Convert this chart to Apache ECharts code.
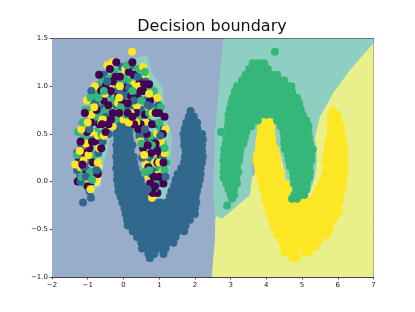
<!DOCTYPE html>
<html><head><meta charset="utf-8">
<style>html,body{margin:0;padding:0;background:#fff}#c{width:415px;height:312px;filter:blur(0.45px)}</style>
<script src="https://cdn.jsdelivr.net/npm/echarts@6/dist/echarts.min.js"></script>
</head><body><div id="c"></div>
<script>
const title = "Decision boundary";
const xTicks = [-2,-1,0,1,2,3,4,5,6,7];
const yTicks = [-1,-0.5,0,0.5,1,1.5];
const colPurple="#440154", colBlue="#31688e", colGreen="#35b779", colYellow="#fde725";
const regionBackground=[[-2,-1],[7,-1],[7,1.5],[-2,1.5]];
const regionYellow=[[2.47,-1],[2.56,-0.61],[2.57,-0.38],[7,1.46],[7,-1]];
const regionTeal=[[2.79,1.5],[2.56,0.51],[2.51,-0.12],[2.56,-0.35],[2.76,-0.39],[3.54,-0.14],[3.6,0.05],[3.6,0.23],[3.68,0.33],[3.77,0.49],[3.88,0.65],[4.1,0.67],[4.24,0.49],[4.38,0.3],[4.44,0.23],[4.58,-0.09],[4.86,-0.16],[5.22,-0.12],[5.36,0.05],[5.42,0.23],[5.36,0.47],[5.5,0.68],[5.87,0.93],[6.34,1.17],[7,1.45],[7,1.5]];
const regionTealLeft=[[0.18,1.27],[0.66,1.33],[0.8,1.14],[1.11,0.99],[1.16,0.72],[1.36,0.47],[1.3,0.17],[1.25,-0.09],[1.16,-0.19],[0.74,-0.19],[0.6,0.23],[0.32,0.59],[0.04,0.67],[-0.32,0.59],[-0.43,0.36],[-0.57,0.17],[-0.66,-0.04],[-0.94,-0.14],[-0.88,0.65],[-0.38,1.17]];
const regionYellowLeft=[[-0.65,-0.04],[-0.58,0.18],[-0.72,0.2],[-0.8,-0.05]];
const regionPurpleLeft=[[-1.42,0.05],[-1.38,0.35],[-1.2,0.35],[-1.2,0.05]];

const blueRows=[[0.74,[-0.02,1.88]],[0.68,[-0.12,0.05,1.83,1.97]],[0.62,[-0.2,-0.03,0.14,1.76,1.92,2.06]],[0.56,[-0.18,0,0.17,1.72,1.88,2.07]],[0.5,[-0.2,-0.04,0.16,1.68,1.86,2.04,2.2]],[0.44,[-0.17,0.01,0.18,1.7,1.87,2.05,2.22]],[0.38,[-0.2,-0.03,0.15,0.25,1.7,1.88,2.06,2.2]],[0.32,[-0.18,0,0.2,1.74,1.9,2.08,2.2]],[0.26,[-0.2,-0.02,0.16,0.28,1.72,1.9,2.06,2.22]],[0.2,[-0.18,0,0.2,0.3,1.7,1.88,2.04,2.2]],[0.14,[-0.2,-0.02,0.16,0.34,1.62,1.8,1.98,2.16]],[0.08,[-0.17,0.01,0.2,0.4,1.52,1.7,1.88,2.06,2.16]],[0.02,[-0.18,-0.01,0.17,0.35,0.48,1.46,1.64,1.82,2,2.14]],[-0.04,[-0.15,0.03,0.21,0.39,0.52,1.42,1.6,1.78,1.96,2.1]],[-0.1,[-0.14,0.02,0.2,0.38,0.54,1.34,1.52,1.7,1.88,2.06]],[-0.16,[-0.08,0.1,0.28,0.46,0.62,1.3,1.48,1.66,1.84,2.02]],[-0.22,[-0.03,0.14,0.32,0.5,0.68,0.86,1.02,1.2,1.38,1.56,1.74,1.92,2.04]],[-0.28,[0.03,0.2,0.38,0.56,0.74,0.92,1.1,1.28,1.46,1.64,1.82,2]],[-0.34,[0.06,0.24,0.42,0.6,0.78,0.96,1.14,1.32,1.5,1.68,1.86,2]],[-0.4,[0.1,0.28,0.46,0.64,0.82,1,1.18,1.36,1.54,1.72,1.86]],[-0.46,[0.12,0.3,0.48,0.66,0.84,1.02,1.2,1.38,1.56,1.74]],[-0.52,[0.26,0.44,0.62,0.8,0.98,1.16,1.34,1.52,1.7]],[-0.58,[0.38,0.56,0.74,0.92,1.1,1.28,1.46]],[-0.64,[0.5,0.68,0.86,1.04,1.22,1.4]],[-0.7,[0.52,0.68,0.84,1,1.18]],[-0.76,[0.7,0.86,1.12]],[-0.8,[0.74]]];

const greenRows=[[1.36,[4.24]],[1.24,[3.62,3.78,3.94]],[1.18,[3.52,3.7,3.88,4.04]],[1.12,[3.42,3.6,3.78,3.96,4.14,4.3]],[1.06,[3.32,3.5,3.68,3.86,4.04,4.22,4.38,4.5]],[1,[3.18,3.36,3.54,3.72,3.9,4.08,4.26,4.44,4.6,4.7]],[0.94,[3.12,3.3,3.48,3.66,3.84,4.02,4.2,4.38,4.56,4.72]],[0.88,[3.06,3.24,3.42,3.6,3.78,3.96,4.14,4.32,4.5,4.68,4.86]],[0.82,[3.02,3.2,3.38,3.56,3.74,3.92,4.1,4.28,4.46,4.64,4.82,4.92]],[0.76,[2.98,3.16,3.34,3.52,3.7,3.88,4.06,4.24,4.42,4.6,4.78,4.96]],[0.7,[2.94,3.12,3.3,3.48,3.66,3.84,4,4.18,4.36,4.54,4.72,4.9,5.02]],[0.64,[2.94,3.12,3.3,3.48,3.66,3.76,4.3,4.48,4.66,4.84,5.02,5.12]],[0.58,[2.92,3.1,3.28,3.46,3.58,4.4,4.58,4.76,4.94,5.12,5.18]],[0.52,[2.73,2.94,3.12,3.3,3.44,4.48,4.66,4.84,5.02,5.18]],[0.46,[2.88,3.06,3.24,3.4,4.5,4.68,4.86,5.04,5.2]],[0.4,[2.86,3.04,3.22,3.36,4.5,4.68,4.86,5.04,5.22]],[0.34,[2.82,3,3.18,3.28,4.52,4.7,4.88,5.06,5.24,5.3]],[0.28,[2.82,3,3.18,3.26,4.6,4.78,4.96,5.14,5.26]],[0.22,[2.8,2.98,3.16,3.24,4.62,4.8,4.98,5.16,5.26]],[0.16,[2.82,3,3.18,4.66,4.84,5.02,5.2]],[0.1,[2.8,2.98,3.16,3.22,4.74,4.92,5.1,5.22]],[0.04,[2.8,2.98,3.16,4.76,4.94,5.12,5.2]],[-0.02,[2.88,3.04,3.18,4.78,4.96,5.14]],[-0.08,[2.94,3.1,4.84,5,5.12]],[-0.14,[3,3.1,4.78,4.94,5.06]],[-0.18,[3.04,4.72,4.86]],[-0.25,[2.9]]];

const yellowRows=[[0.74,[3.98,5.86]],[0.7,[3.92,4.08,5.82,5.98]],[0.64,[3.96,4.1,5.8,5.96,6.02]],[0.58,[3.86,4.02,4.14,5.8,5.96,6.08]],[0.52,[3.84,4,4.14,5.82,5.98,6.1]],[0.46,[3.82,3.98,4.16,5.78,5.94,6.12]],[0.4,[3.8,3.98,4.18,5.72,5.9,6.08,6.16]],[0.34,[3.78,3.96,4.14,4.26,5.72,5.9,6.08,6.18]],[0.28,[3.74,3.92,4.1,4.28,5.68,5.86,6.04,6.2]],[0.22,[3.72,3.9,4.08,4.26,4.32,5.64,5.82,6,6.18]],[0.16,[3.76,3.94,4.12,4.3,5.68,5.86,6.04,6.2]],[0.1,[3.78,3.96,4.14,4.32,4.42,5.66,5.84,6.02,6.18]],[0.04,[3.84,4.02,4.2,4.38,5.62,5.8,5.98,6.16]],[-0.02,[3.86,4.04,4.22,4.4,4.54,5.54,5.72,5.9,6.08,6.16]],[-0.08,[3.92,4.1,4.28,4.46,4.6,5.44,5.62,5.8,5.98,6.12]],[-0.14,[3.96,4.14,4.32,4.5,4.66,5.38,5.56,5.74,5.92,6.08]],[-0.2,[3.98,4.16,4.34,4.52,4.7,4.88,5.06,5.24,5.42,5.6,5.78,5.96,6.06]],[-0.26,[4.04,4.22,4.4,4.58,4.76,4.94,5.12,5.3,5.48,5.66,5.84,6]],[-0.32,[4.08,4.26,4.44,4.62,4.8,4.98,5.16,5.34,5.52,5.7,5.88,6.04]],[-0.38,[4.14,4.32,4.5,4.68,4.86,5.04,5.22,5.4,5.58,5.76,5.92]],[-0.44,[4.18,4.36,4.54,4.72,4.9,5.08,5.26,5.44,5.62,5.8]],[-0.5,[4.24,4.42,4.6,4.78,4.96,5.14,5.32,5.5,5.68,5.76]],[-0.56,[4.3,4.48,4.66,4.84,5.02,5.2,5.38,5.56,5.7]],[-0.62,[4.42,4.6,4.78,4.96,5.14,5.32,5.48]],[-0.68,[4.48,4.66,4.84,5.02,5.2,5.38]],[-0.74,[4.5,4.66,4.82,5.08,5.2]],[-0.8,[4.72,4.86]]];

const mixedPurple=[[-1.2,0.05],[-1.05,0.12],[-0.9,0],[-1.1,0.3],[-0.95,0.35],[-1.25,0.22],[-0.85,0.2],[-1,-0.05],[-0.78,0.42],[-1.02,0.52],[-0.9,0.62],[-0.68,0.6],[-0.75,0.75],[-0.55,0.85],[-0.62,0.95],[-0.42,0.8],[-0.5,1],[-0.35,0.95],[-0.3,1.05],[-0.15,0.9],[-0.38,1.18],[-0.1,1.1],[0.05,0.98],[-0.2,1.25],[0.15,1.15],[0.28,1.12],[-0.05,0.85],[0.2,0.9],[0.45,1.05],[0.4,0.88],[0.55,0.95],[0.6,0.7],[0.35,0.72],[0.75,0.85],[0.48,0.6],[0.65,0.5],[0.8,0.6],[0.9,0.4],[0.55,0.35],[0.78,0.3],[0.95,0.2],[0.7,0.15],[1.05,0.28],[0.85,0.05],[1,0.05],[0.75,-0.02],[1.12,-0.02],[0.95,-0.12],[-0.35,0.65],[0.12,0.72],[-1.28,0],[-0.72,0.08],[-1.2,0.42],[-0.62,0.35],[-0.5,0.52],[-0.42,0.6],[-1.08,0.72],[-0.3,0.72],[0.3,0.6],[0.42,0.55],[1.1,0.5],[1.12,0.2],[0.82,-0.12],[0.58,1.02],[0.25,1.25],[0.72,1.02],[-0.68,1.12],[-0.12,0.72],[0.25,0.68],[1,0.72],[1.15,0.68],[-1.15,0.18],[-0.88,0.42],[-0.6,0.6],[-0.22,1.1],[0.12,0.82],[0.48,0.95],[0.9,0.72],[0.95,0.32],[0.68,0.38],[0.88,-0.05]];
const mixedBlue=[[-1.3,0.12],[-1,0.22],[-0.82,0.1],[-1.18,0.38],[-0.85,0.48],[-1.05,0.62],[-0.72,0.62],[-0.6,0.78],[-0.85,0.85],[-0.7,1],[-0.42,0.92],[-0.55,1.12],[-0.25,0.98],[-0.2,0.8],[-0.05,1.2],[0.1,1.05],[0.02,0.8],[0.22,1.22],[0.35,0.95],[0.6,0.85],[0.5,0.75],[0.7,0.62],[0.92,0.6],[0.62,0.42],[0.85,0.45],[1,0.35],[0.72,0.25],[0.9,0.12],[0.98,-0.02],[-0.95,-0.1],[-1.13,-0.22],[-0.91,-0.17],[-1.1,0.15],[0.78,0.08],[-0.5,0.68],[-1.3,0.3],[-0.7,0.3],[-0.58,0.42],[-0.42,0.5],[-0.32,0.62],[-0.12,0.68],[0.18,0.75],[0.3,0.62],[0.45,0.48],[0.52,0.25],[1.12,0.55],[1.1,0.25],[1.18,0.05],[0.78,-0.1],[0.8,0.78],[0.98,0.8],[0.62,1.05],[0.4,1.1],[-0.9,0.95],[-1.2,0],[-0.75,0.12],[-0.1,0.95],[0.15,0.98],[-0.95,0.55],[-0.78,0.82],[-0.45,1.05],[0,0.9],[0.3,0.85],[0.68,0.8],[0.6,0.55],[1.03,0.48],[0.68,-0.08],[-1.05,0.05]];
const mixedGreen=[[-1.27,0.52],[-1.1,-0.02],[-0.95,0.1],[-0.82,0.28],[-1.12,0.45],[-0.95,0.45],[-0.78,0.52],[-0.95,0.75],[-0.8,0.68],[-0.62,0.72],[-0.78,0.92],[-0.6,1.05],[-0.48,0.75],[-0.3,0.85],[-0.4,1.08],[-0.25,1.15],[-0.15,1.02],[0,1.08],[0.12,0.9],[-0.02,0.72],[0.28,0.82],[0.2,1.05],[0.4,1.18],[0.52,1.05],[0.68,0.95],[0.85,0.95],[0.45,0.68],[0.55,0.55],[0.75,0.48],[0.92,0.28],[1.1,0.4],[0.65,0.28],[0.82,0.18],[1.02,0.15],[0.9,-0.02],[1.15,0.12],[1.05,0.55],[-1.3,0.28],[-0.7,0.1],[-0.62,0.5],[-0.55,0.6],[-0.4,0.62],[-0.22,0.65],[0.08,0.7],[0.22,0.62],[0.38,0.55],[0.5,0.4],[0.6,0.1],[0.72,0.72],[0.9,0.75],[1.05,0.78],[1.15,0.35],[1.2,0.2],[0.85,-0.08],[-1.18,0.05],[-1.08,0.75],[-0.92,0.88],[-0.68,1.12],[0.1,1.22],[0.6,1.15],[-1.15,0.62],[-0.7,0.88],[-0.55,0.95],[-0.08,0.78],[0.25,0.95],[0.5,0.85],[0.8,0.38],[1,0.62],[0.72,0.12],[-0.88,0.02]];
const mixedYellow=[[0.24,1.36],[0.8,-0.17],[-1.2,0.15],[-0.98,0.28],[-0.8,0.02],[-1,0.02],[-1.12,0.22],[-0.72,0.2],[-0.9,0.52],[-1.05,0.4],[-0.72,0.48],[-0.9,0.7],[-0.65,0.85],[-0.8,1],[-0.52,0.92],[-0.35,1],[-0.45,1.22],[-0.3,1.25],[-0.15,0.82],[-0.28,0.72],[0.05,1.18],[0.08,0.88],[0.3,1.02],[0.55,1.2],[0.62,1.12],[0.38,0.8],[0.7,0.78],[0.62,0.62],[0.95,0.5],[0.72,0.38],[0.85,0.3],[0.95,0.07],[0.7,0.05],[1.1,0.1],[0.88,0.2],[1.05,0.42],[0.62,0.18],[-1.35,0.18],[-0.68,0.35],[-0.55,0.48],[-0.48,0.58],[-0.3,0.58],[0,0.65],[0.2,0.72],[0.36,0.62],[0.48,0.42],[0.58,0.28],[1.18,0.55],[1.15,0.3],[1,0.2],[0.82,0.72],[0.95,0.88],[-1.18,0.55],[-1.02,0.85],[-0.58,0.65],[-0.92,-0.08],[-1.22,0.32],[0.72,0.92],[0.42,1],[-0.1,1],[-1,0.62],[-0.82,0.78],[-0.62,0.62],[-0.12,0.88],[0.15,0.62]];

const fromRows = rows => rows.flatMap(([y,xs]) => xs.map(x => [x,y]));
const mixedGroups=[[mixedPurple,colPurple],[mixedBlue,colBlue],[mixedGreen,colGreen],[mixedYellow,colYellow]];
const mixed=[];
for(let i=0;i<90;i++){ mixedGroups.forEach(([pts,col])=>{ if(pts[i]) mixed.push({value:pts[i],itemStyle:{color:col}}); }); }

const polygon=(pts,fill)=>({type:'custom',coordinateSystem:'cartesian2d',silent:true,clip:true,z:1,
  data:[0],
  renderItem:(p,api)=>({type:'polygon',shape:{points:pts.map(q=>api.coord(q))},style:{fill:fill}})});
const scatter=(data,color)=>({type:'scatter',data:data,symbolSize:8,itemStyle:color?{color:color,opacity:1}:{opacity:1},z:2,silent:true,animation:false,clip:false});

const minusFmt=d=>v=>String(d?v.toFixed(1):v).replace('-','\u2212');
const axisBase={axisLine:{show:true,onZero:false,lineStyle:{color:'#444',width:1}},splitLine:{show:false},
  axisTick:{show:true,length:2.5,lineStyle:{color:'#333',width:0.8}}};
const chart=echarts.init(document.getElementById('c'),null,{renderer:'canvas'});
chart.setOption({
  animation:false,backgroundColor:'#fff',
  title:{text:title,left:207,top:14,textAlign:'center',textStyle:{fontFamily:'DejaVu Sans',fontSize:16,fontWeight:'normal',color:'#111'}},
  grid:{left:52,right:41.5,top:38.5,bottom:35,containLabel:false},
  xAxis:[{...axisBase,type:'value',min:-2,max:7,interval:1,position:'bottom',
    axisLabel:{fontFamily:'DejaVu Sans',fontSize:7,color:'#222',margin:5,formatter:minusFmt(false),customValues:xTicks},axisTick:{...axisBase.axisTick,customValues:xTicks}},
    {...axisBase,type:'value',min:-2,max:7,position:'top',axisLabel:{show:false},axisTick:{show:false}}],
  yAxis:[{...axisBase,type:'value',min:-1,max:1.5,interval:0.5,position:'left',
    axisLabel:{fontFamily:'DejaVu Sans',fontSize:7,color:'#222',margin:4,formatter:minusFmt(true),customValues:yTicks},axisTick:{...axisBase.axisTick,customValues:yTicks}},
    {...axisBase,type:'value',min:-1,max:1.5,position:'right',axisLabel:{show:false},axisTick:{show:false}}],
  series:[
    polygon(regionBackground,'#98adc9'),
    polygon(regionYellow,'#e9ef8a'),
    polygon(regionTeal,'#8dcfc0'),
    polygon(regionTealLeft,'#8dcfc0'),
    polygon(regionYellowLeft,'#e9ef8a'),
    polygon(regionPurpleLeft,'#ad9fc2'),
    scatter(fromRows(blueRows),colBlue),
    scatter(fromRows(yellowRows),colYellow),
    scatter(fromRows(greenRows),colGreen),
    scatter(mixed,null)
  ]
});
</script></body></html>
